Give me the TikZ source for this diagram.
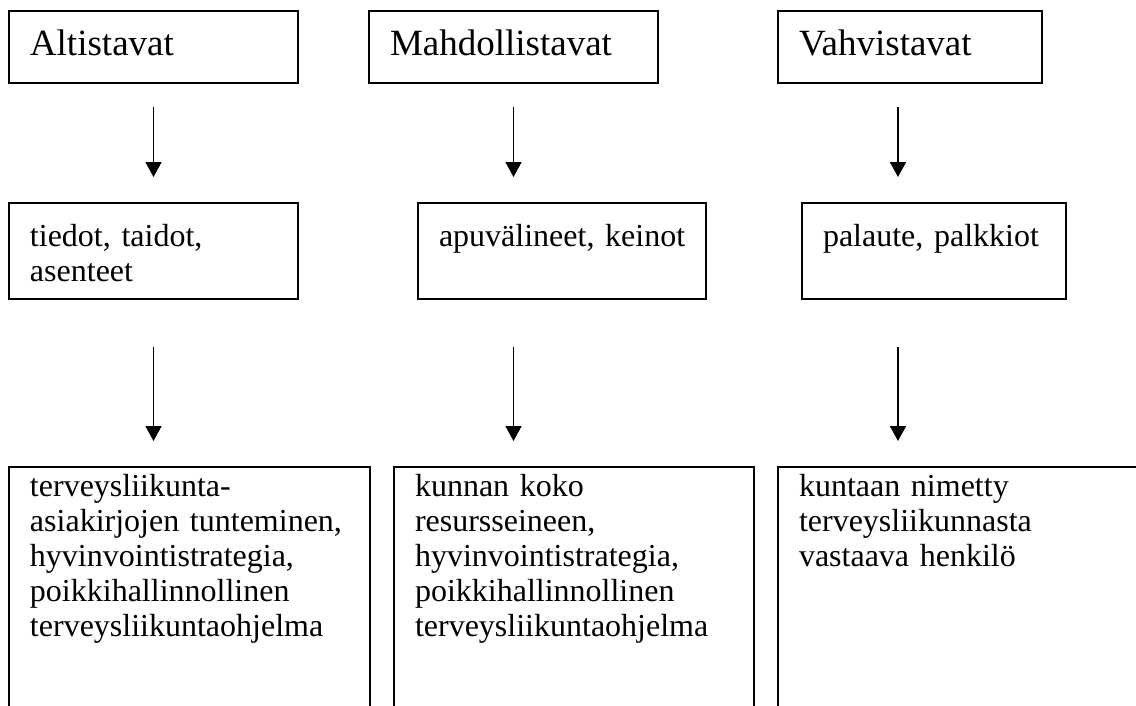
\documentclass[tikz,border=0pt]{standalone}
\usepackage{fontspec}
\setmainfont{Liberation Serif}
\usetikzlibrary{arrows.meta}
\def\wBox{2pt}
\def\wFlow{1.7pt}
\tikzset{
  box/.style={draw=black, line width=\wBox, anchor=north west, align=left, inner xsep=21pt,
    font=\fontsize{32}{35}\selectfont},
  hdr/.style={box, font=\fontsize{37}{40}\selectfont, text height=25pt, text depth=8pt, inner ysep=19.5pt},
  mid/.style={box, text height=22pt, text depth=32pt, inner ysep=21pt},
  low/.style={box, text height=22pt, text depth=264pt, inner ysep=7pt},
  flow/.style={draw=black, line width=\wFlow, -{Triangle[width=16pt, length=15pt]}},
}

\begin{document}
\begin{tikzpicture}[x=1pt, y=1pt]
\path[use as bounding box, clip] (0,0) rectangle (1136,-705);
% ---- top row: the three factor groups
\node[hdr, minimum width=289pt, text width=247pt] (a1) at (8,-10)   {Altistavat};
\node[hdr, minimum width=289pt, text width=247pt] (m1) at (368,-10) {Mahdollistavat};
\node[hdr, minimum width=264pt, text width=222pt] (v1) at (777,-10) {Vahvistavat};

% ---- middle row
\node[mid, minimum width=289pt, text width=247pt] (a2) at (8,-202)   {tiedot, taidot,\\ asenteet};
\node[mid, minimum width=288pt, text width=246pt] (m2) at (417,-202) {apuvälineet,~keinot};
\node[mid, minimum width=264pt, text width=222pt] (v2) at (801,-202) {palaute,~palkkiot};

% ---- bottom row (boxes run past the lower edge)
\node[low, minimum width=361pt, text width=319pt] (a3) at (8,-466)   {terveysliikunta-\\ asiakirjojen tunteminen,\\ hyvinvointistrategia,\\ poikkihallinnollinen\\ terveysliikuntaohjelma};
\node[low, minimum width=360pt, text width=318pt] (m3) at (393,-466) {kunnan koko\\ resursseineen,\\ hyvinvointistrategia,\\ poikkihallinnollinen\\ terveysliikuntaohjelma};
\node[low, minimum width=400pt, text width=358pt] (v3) at (777,-466) {kuntaan nimetty\\ terveysliikunnasta\\ vastaava henkilö};

% ---- arrows, one column per group
\coordinate (vcol) at ([xshift=-12pt]v1.south);
\draw[flow, shorten <=23pt, shorten >=25pt] (a1.south) -- (a2.north -| a1.south);
\draw[flow, shorten <=23pt, shorten >=25pt] (m1.south) -- (m2.north -| m1.south);
\draw[flow, shorten <=23pt, shorten >=25pt] (vcol) -- (v2.north -| vcol);
\draw[flow, shorten <=47pt, shorten >=25pt] (a2.south -| a1.south) -- (a3.north -| a1.south);
\draw[flow, shorten <=47pt, shorten >=25pt] (m2.south -| m1.south) -- (m3.north -| m1.south);
\draw[flow, shorten <=47pt, shorten >=25pt] (v2.south -| vcol) -- (v3.north -| vcol);
\end{tikzpicture}
\end{document}
